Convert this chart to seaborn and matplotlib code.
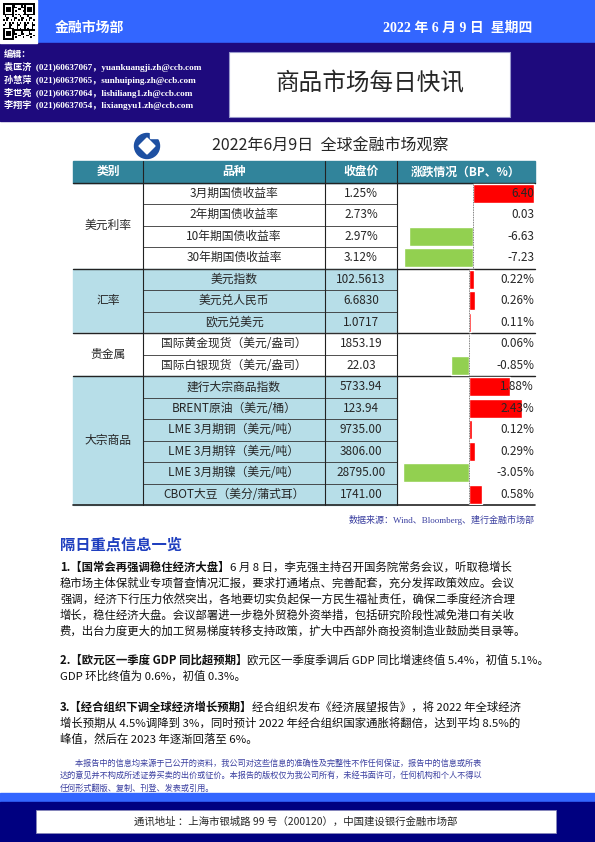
import numpy as np
import matplotlib
matplotlib.use("Agg")
import matplotlib.pyplot as plt
from matplotlib.patches import Rectangle, Circle, Polygon
import seaborn as sns

sns.set_theme(style="white")
plt.rcParams['font.family'] = ['Noto Sans CJK SC', 'DejaVu Sans']

# ---------------- data ----------------
categories = ["美元利率", "汇率", "贵金属", "大宗商品"]
cat_sizes = [4, 3, 2, 6]
items = ["3月期国债收益率", "2年期国债收益率", "10年期国债收益率", "30年期国债收益率",
         "美元指数", "美元兑人民币", "欧元兑美元",
         "国际黄金现货（美元/盎司）", "国际白银现货（美元/盎司）",
         "建行大宗商品指数", "BRENT原油（美元/桶）", "LME 3月期铜（美元/吨）",
         "LME 3月期锌（美元/吨）", "LME 3月期镍（美元/吨）", "CBOT大豆（美分/蒲式耳）"]
prices = ["1.25%", "2.73%", "2.97%", "3.12%", "102.5613", "6.6830", "1.0717",
          "1853.19", "22.03", "5733.94", "123.94", "9735.00", "3806.00", "28795.00", "1741.00"]
rate_changes_bp = [6.40, 0.03, -6.63, -7.23]
pct_changes = [0.22, 0.26, 0.11, 0.06, -0.85, 1.88, 2.43, 0.12, 0.29, -3.05, 0.58]
headers = ["类别", "品种", "收盘价", "涨跌情况（BP、%）"]

W, H = 595, 842
fig = plt.figure(figsize=(W / 100, H / 100), dpi=100)
ax = fig.add_axes([0, 0, 1, 1])
ax.set_xlim(0, W)
ax.set_ylim(H, 0)
ax.axis("off")

BLUE = "#3366FF"
NAVY = "#1E0A7D"
TEAL = "#31849B"
LIGHT = "#B7DEE8"
RED = "#FF0000"
GREEN = "#92D050"

# ---------------- header ----------------
ax.add_patch(Rectangle((37, 0), W - 37, 43, color=BLUE, zorder=1))
ax.add_patch(Rectangle((0, 43), W, 78, color=NAVY, zorder=1))
ax.add_patch(Rectangle((0, 0), 37, 43, color="white", zorder=1))
ii, jj = np.indices((21, 21))
qr = ((ii * 7 + jj * 3 + (ii * jj) % 5) % 3 == 0).astype(float)
for (a, b) in [(0, 0), (0, 14), (14, 0)]:
    qr[a:a + 7, b:b + 7] = 1
    qr[a + 1:a + 6, b + 1:b + 6] = 0
    qr[a + 2:a + 5, b + 2:b + 5] = 1
ax.imshow(1 - qr, cmap="gray", extent=(3, 35, 40, 3), zorder=2, interpolation="nearest")
ax.text(55, 28, "金融市场部", color="white", fontsize=10, fontweight="bold", va="center")
ax.text(532, 28, "2022 年 6 月 9 日  星期四", color="white", fontsize=10, fontweight="bold",
        va="center", ha="right", family=["Liberation Serif", "Noto Sans CJK SC"])
editor_lines = ["编辑：",
                "袁匡济  (021)60637067，yuankuangji.zh@ccb.com",
                "孙慧萍  (021)60637065，sunhuiping.zh@ccb.com",
                "李世亮  (021)60637064，lishiliang1.zh@ccb.com",
                "李翔宇  (021)60637054，lixiangyu1.zh@ccb.com"]
for k, line in enumerate(editor_lines):
    ax.text(4, 55 + k * 12.5, line, color="white", fontsize=6.6, va="center",
            fontweight="bold", family=["Liberation Serif", "Noto Sans CJK SC"])
ax.add_patch(Rectangle((229, 52), 281, 65, facecolor="white", edgecolor="#9999CC", lw=0.8, zorder=2))
ax.text(370, 84, "商品市场每日快讯", fontsize=17, ha="center", va="center", zorder=3)

# ---------------- table title + logo ----------------
ax.add_patch(Circle((147, 146), 12.5, color="#1E50A2", zorder=2))
ax.add_patch(Polygon([(147, 138), (155, 146), (147, 154), (139, 146)], color="white", zorder=3))
ax.add_patch(Rectangle((150, 130), 14, 8, color="white", zorder=3))
ax.text(330, 146, "2022年6月9日  全球金融市场观察", fontsize=11.5, ha="center", va="center")

# ---------------- table ----------------
cols = [73, 143, 325, 397, 535]
top, hdr_h, row_h = 161, 21.5, 21.5
ax.add_patch(Rectangle((cols[0], top), cols[-1] - cols[0], hdr_h, color=TEAL, zorder=1))
for c in range(4):
    ax.text((cols[c] + cols[c + 1]) / 2, top + hdr_h / 2, headers[c], color="white",
            fontsize=8.5, fontweight="bold", ha="center", va="center")
y0 = top + hdr_h
n = len(items)
start = 0
for ci, (cat, size) in enumerate(zip(categories, cat_sizes)):
    fill = "white" if ci % 2 == 0 else LIGHT
    ys = y0 + start * row_h
    ax.add_patch(Rectangle((cols[0], ys), cols[3] - cols[0], size * row_h, color=fill, zorder=0.5))
    ax.text((cols[0] + cols[1]) / 2, ys + size * row_h / 2, cat, fontsize=8.5, ha="center", va="center")
    ax.plot([cols[0], cols[-1]], [ys, ys], color="#222222", lw=1.0, zorder=4)
    start += size
ax.plot([cols[0], cols[-1]], [y0 + n * row_h] * 2, color="#222222", lw=1.2, zorder=4)
for r in range(n):
    yc = y0 + (r + 0.5) * row_h
    ax.text((cols[1] + cols[2]) / 2, yc, items[r], fontsize=8.5, ha="center", va="center")
    ax.text((cols[2] + cols[3]) / 2, yc, prices[r], fontsize=8.5, ha="center", va="center")
    if r > 0:
        ax.plot([cols[1], cols[3]], [y0 + r * row_h] * 2, color="#333333", lw=0.6, zorder=4)
for x in cols[1:4]:
    ax.plot([x, x], [top, y0 + n * row_h], color="#222222", lw=0.8, zorder=4)


def bar_axes(vals, r0, r1, left, right, suffix):
    bx = fig.add_axes([cols[3] / W, 1 - (y0 + r1 * row_h) / H,
                       (cols[4] - cols[3]) / W, (r1 - r0) * row_h / H])
    names = [str(i) for i in range(len(vals))]
    signs = ["up" if v >= 0 else "down" for v in vals]
    sns.barplot(x=vals, y=names, hue=signs, palette={"up": RED, "down": GREEN},
                dodge=False, legend=False, width=0.9, orient="h", ax=bx, saturation=1)
    bx.set_xlim(left, right)
    bx.set_ylim(len(vals) - 0.5, -0.5)
    bx.axvline(0, color="#555555", lw=0.6, ls=(0, (1, 1)))
    bx.axis("off")
    bx.patch.set_alpha(0)
    for i, v in enumerate(vals):
        fig.text(right * 0.985, i, f"{v:.2f}{suffix}", ha="right", va="center",
                 fontsize=8.5, zorder=10, transform=bx.transData)


bar_axes(rate_changes_bp, 0, 4, -7.92, 6.46, "")
bar_axes(pct_changes, 4, 15, -3.32, 3.04, "%")

ax.text(535, 520, "数据来源：Wind、Bloomberg、建行金融市场部", fontsize=6.5, color="#3A3FA0",
        ha="right", va="center", family=["Liberation Serif", "Noto Sans CJK SC"])

# ---------------- news ----------------
ax.text(60, 545, "隔日重点信息一览", fontsize=11, fontweight="bold", color="#1F3FBF", va="center")
body = [
    [("1.【国常会再强调稳住经济大盘】", True), ("6 月 8 日，李克强主持召开国务院常务会议，听取稳增长", False)],
    [("稳市场主体保就业专项督查情况汇报，要求打通堵点、完善配套，充分发挥政策效应。会议", False)],
    [("强调，经济下行压力依然突出，各地要切实负起保一方民生福祉责任，确保二季度经济合理", False)],
    [("增长，稳住经济大盘。会议部署进一步稳外贸稳外资举措，包括研究阶段性减免港口有关收", False)],
    [("费，出台力度更大的加工贸易梯度转移支持政策，扩大中西部外商投资制造业鼓励类目录等。", False)],
]
body2 = [
    [("2.【欧元区一季度 GDP 同比超预期】", True), ("欧元区一季度季调后 GDP 同比增速终值 5.4%，初值 5.1%。", False)],
    [("GDP 环比终值为 0.6%，初值 0.3%。", False)],
]
body3 = [
    [("3.【经合组织下调全球经济增长预期】", True), ("经合组织发布《经济展望报告》，将 2022 年全球经济", False)],
    [("增长预期从 4.5%调降到 3%，同时预计 2022 年经合组织国家通胀将翻倍，达到平均 8.5%的", False)],
    [("峰值，然后在 2023 年逐渐回落至 6%。", False)],
]
fig.canvas.draw()
renderer = fig.canvas.get_renderer()


def draw_lines(lines, ystart, step):
    for k, segs in enumerate(lines):
        x = 60
        for txt, bold in segs:
            t = ax.text(x, ystart + k * step, txt, fontsize=8.2, va="center",
                        fontweight="bold" if bold else "normal", color="#111111")
            bb = t.get_window_extent(renderer=renderer)
            x += bb.width


draw_lines(body, 567, 16)
draw_lines(body2, 660, 16.5)
draw_lines(body3, 707, 16)

disc = ["        本报告中的信息均来源于已公开的资料，我公司对这些信息的准确性及完整性不作任何保证，报告中的信息或所表",
        "达的意见并不构成所述证券买卖的出价或征价。本报告的版权仅为我公司所有，未经书面许可，任何机构和个人不得以",
        "任何形式翻版、复制、刊登、发表或引用。"]
for k, line in enumerate(disc):
    ax.text(60, 763 + k * 12.5, line, fontsize=5.9, color="#3A3FA0", va="center")

# ---------------- footer ----------------
ax.add_patch(Rectangle((0, 793), W, 10, color=BLUE, zorder=1))
ax.add_patch(Rectangle((0, 802), W, 40, color="#000080", zorder=1))
ax.add_patch(Rectangle((36, 810), 520, 23, facecolor="white", edgecolor="#8888BB", lw=0.6, zorder=2))
ax.text(296, 821.5, "通讯地址 ：上海市银城路 99 号（200120），中国建设银行金融市场部", fontsize=7.5,
        ha="center", va="center", zorder=3)

fig.savefig("out.png", dpi=100)
